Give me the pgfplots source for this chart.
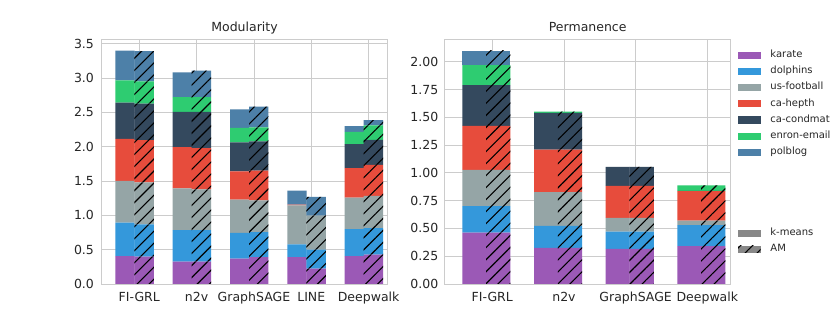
\documentclass[border=0pt]{standalone}
\usepackage{fontspec}
\setmainfont{DejaVu Sans}
\usepackage{pgfplots}
\usepackage{pgfplotstable}
\pgfplotsset{compat=1.18}
\usetikzlibrary{patterns.meta}

\definecolor{cKarate}{HTML}{9B59B6}
\definecolor{cDolphins}{HTML}{3498DB}
\definecolor{cFootball}{HTML}{95A5A6}
\definecolor{cHepth}{HTML}{E74C3C}
\definecolor{cCondmat}{HTML}{34495E}
\definecolor{cEnron}{HTML}{2ECC71}
\definecolor{cPolblog}{HTML}{4D80A8}
\definecolor{gridc}{HTML}{CCCCCC}
\definecolor{txtc}{HTML}{262626}
\definecolor{legc}{HTML}{888888}

% Modularity, k-means
\pgfplotstableread{
x karate dolphins football hepth condmat enron polblog
0 0.405 0.488 0.607 0.612 0.528 0.326 0.432
1 0.325 0.461 0.607 0.602 0.510 0.218 0.360
2 0.369 0.374 0.485 0.413 0.422 0.209 0.272
3 0.393 0.185 0.568 0.009 0 0 0.204
4 0.405 0.395 0.458 0.429 0.350 0.179 0.084
}\modKM
% Modularity, AM
\pgfplotstableread{
x karate dolphins football hepth condmat enron polblog
0 0.400 0.469 0.611 0.617 0.529 0.324 0.440
1 0.325 0.461 0.593 0.601 0.525 0.215 0.387
2 0.393 0.364 0.461 0.432 0.428 0.202 0.303
3 0.223 0.277 0.495 0 0 0 0.272
4 0.427 0.388 0.469 0.451 0.365 0.210 0.075
}\modAM
% Permanence, k-means
\pgfplotstableread{
x karate dolphins football hepth condmat enron polblog
0 0.463 0.237 0.326 0.397 0.367 0.180 0.130
1 0.325 0.198 0.304 0.382 0.331 0.012 0
2 0.316 0.156 0.123 0.289 0.169 0 0
3 0.340 0.189 0.042 0.265 0.003 0.048 0
}\perKM
% Permanence, AM
\pgfplotstableread{
x karate dolphins football hepth condmat enron polblog
0 0.463 0.237 0.326 0.397 0.367 0.180 0.130
1 0.325 0.198 0.304 0.382 0.331 0.012 0
2 0.316 0.156 0.123 0.289 0.169 0 0
3 0.340 0.189 0.042 0.265 0.003 0.048 0
}\perAM

\tikzset{hatch/.style={postaction={pattern={Lines[angle=45,distance=8.5bp,line width=1.1bp]},pattern color=black}}}

\pgfplotsset{
  frame/.style={
    scale only axis, height=245bp, ymin=0,
    ybar stacked,
    axis line style={draw=gridc, line width=0.8bp},
    grid=major, major grid style={draw=gridc, line width=0.8bp},
    major tick length=0pt,
    tick style={draw=none},
    tick label style={font=\fontsize{12.5bp}{15bp}\selectfont, text=txtc, inner sep=0pt},
    xticklabel style={anchor=north, yshift=-8bp, text height=9.1bp, text depth=2.9bp},
    yticklabel style={anchor=east, /pgf/number format/fixed, /pgf/number format/fixed zerofill},
    /pgf/number format/assume math mode=true,
    scaled y ticks=false,
    title style={font=\fontsize{12.5bp}{15bp}\selectfont, text=txtc, at={(0.5,1)}, anchor=base, yshift=1.2bp, inner sep=0pt},
  },
  km/.style={bar width=0.335, bar shift=-0.25},
  am/.style={bar width=0.339, bar shift=0.0830, hide axis},
  leftax/.style={at={(101.7bp,41bp)}, anchor=south west, width=285.6bp,
    xmin=-0.656, xmax=4.326, ymax=3.568,
    xtick={0,1,2,3,4}, xticklabels={FI-GRL,n2v,GraphSAGE,LINE,Deepwalk},
    ytick={0,0.5,1,1.5,2,2.5,3,3.5},
    yticklabel style={/pgf/number format/precision=1, xshift=-7.6bp}},
  rightax/.style={at={(444.7bp,41bp)}, anchor=south west, width=286bp,
    xmin=-0.664, xmax=3.326, ymax=2.205,
    xtick={0,1,2,3}, xticklabels={FI-GRL,n2v,GraphSAGE,Deepwalk},
    ytick={0,0.25,0.5,0.75,1,1.25,1.5,1.75,2},
    yticklabel style={/pgf/number format/precision=2, xshift=-6.2bp}},
}

\begin{document}
\begin{tikzpicture}
\path[use as bounding box, fill=white] (0,0) rectangle (830bp,325bp);

% ---------- Modularity ----------
\begin{axis}[frame, km, leftax, title={Modularity}]
\addplot[fill=cKarate, draw=none] table[x=x, y=karate] {\modKM};
\addplot[fill=cDolphins, draw=none] table[x=x, y=dolphins] {\modKM};
\addplot[fill=cFootball, draw=none] table[x=x, y=football] {\modKM};
\addplot[fill=cHepth, draw=none] table[x=x, y=hepth] {\modKM};
\addplot[fill=cCondmat, draw=none] table[x=x, y=condmat] {\modKM};
\addplot[fill=cEnron, draw=none] table[x=x, y=enron] {\modKM};
\addplot[fill=cPolblog, draw=none] table[x=x, y=polblog] {\modKM};
\end{axis}
\begin{axis}[frame, am, leftax]
\addplot[fill=cKarate, draw=none, hatch] table[x=x, y=karate] {\modAM};
\addplot[fill=cDolphins, draw=none, hatch] table[x=x, y=dolphins] {\modAM};
\addplot[fill=cFootball, draw=none, hatch] table[x=x, y=football] {\modAM};
\addplot[fill=cHepth, draw=none, hatch] table[x=x, y=hepth] {\modAM};
\addplot[fill=cCondmat, draw=none, hatch] table[x=x, y=condmat] {\modAM};
\addplot[fill=cEnron, draw=none, hatch] table[x=x, y=enron] {\modAM};
\addplot[fill=cPolblog, draw=none, hatch] table[x=x, y=polblog] {\modAM};
\end{axis}

% ---------- Permanence ----------
\begin{axis}[frame, km, rightax, title={Permanence},
  legend style={at={(1,1)}, anchor=north west, xshift=7.3bp, yshift=-11.3bp,
    draw=none, fill=none, inner sep=0pt, outer sep=0pt,
    row sep=6.47bp, column sep=9.7bp,
    font=\fontsize{10bp}{12bp}\selectfont, text=txtc,
    cells={anchor=base west},
    nodes={inner sep=0pt, text height=7.3bp, text depth=2.4bp}},
  legend image code/.code={\fill[#1] (0bp,-1.35bp) rectangle (22.7bp,5.95bp);},
]
\addplot[fill=cKarate, draw=none] table[x=x, y=karate] {\perKM};
\addlegendentry{karate}
\addplot[fill=cDolphins, draw=none] table[x=x, y=dolphins] {\perKM};
\addlegendentry{dolphins}
\addplot[fill=cFootball, draw=none] table[x=x, y=football] {\perKM};
\addlegendentry{us-football}
\addplot[fill=cHepth, draw=none] table[x=x, y=hepth] {\perKM};
\addlegendentry{ca-hepth}
\addplot[fill=cCondmat, draw=none] table[x=x, y=condmat] {\perKM};
\addlegendentry{ca-condmat}
\addplot[fill=cEnron, draw=none] table[x=x, y=enron] {\perKM};
\addlegendentry{enron-email}
\addplot[fill=cPolblog, draw=none] table[x=x, y=polblog] {\perKM};
\addlegendentry{polblog}
\addlegendimage{empty legend}\addlegendentry{}
\addlegendimage{empty legend}\addlegendentry{}
\addlegendimage{empty legend}\addlegendentry{}
\addlegendimage{empty legend}\addlegendentry{}
\addlegendimage{fill=legc, draw=none}\addlegendentry{k-means}
\addlegendimage{fill=legc, draw=none, hatch}\addlegendentry{AM}
\end{axis}
\begin{axis}[frame, am, rightax]
\addplot[fill=cKarate, draw=none, hatch] table[x=x, y=karate] {\perAM};
\addplot[fill=cDolphins, draw=none, hatch] table[x=x, y=dolphins] {\perAM};
\addplot[fill=cFootball, draw=none, hatch] table[x=x, y=football] {\perAM};
\addplot[fill=cHepth, draw=none, hatch] table[x=x, y=hepth] {\perAM};
\addplot[fill=cCondmat, draw=none, hatch] table[x=x, y=condmat] {\perAM};
\addplot[fill=cEnron, draw=none, hatch] table[x=x, y=enron] {\perAM};
\addplot[fill=cPolblog, draw=none, hatch] table[x=x, y=polblog] {\perAM};
\end{axis}
\end{tikzpicture}
\end{document}
